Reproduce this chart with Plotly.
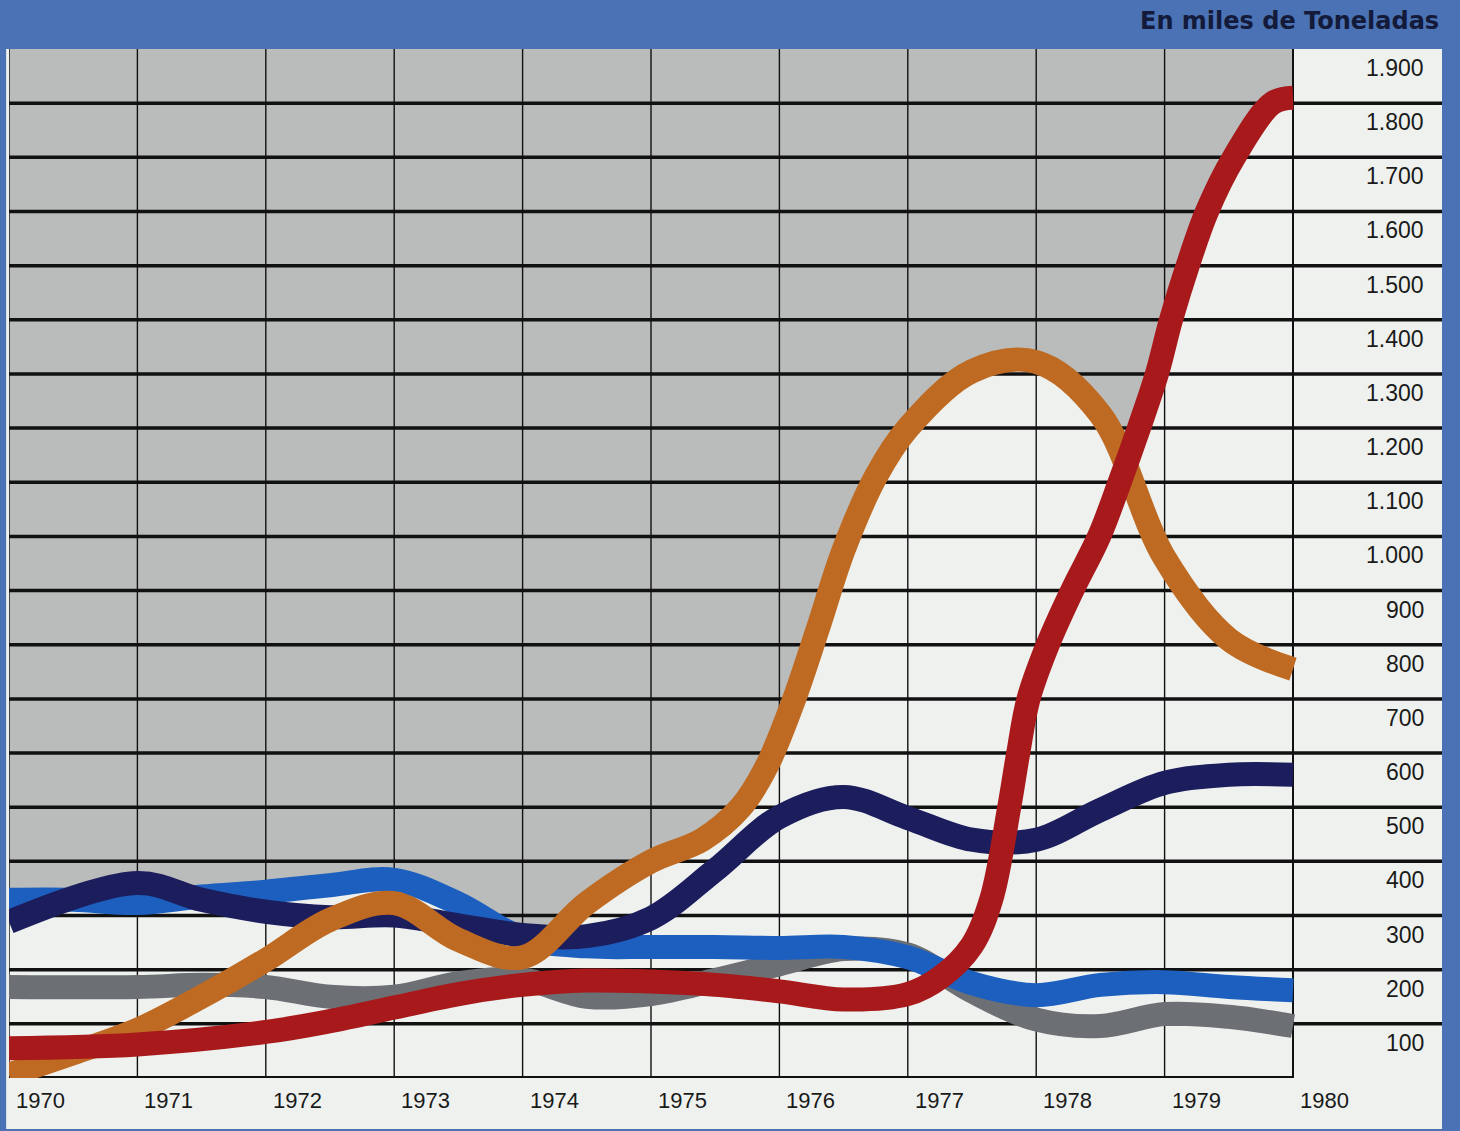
import plotly.graph_objects as go

# ---------------- data ----------------
years = [1970, 1971, 1972, 1973, 1974, 1975, 1976, 1977, 1978, 1979, 1980]
y_ticks = [100, 200, 300, 400, 500, 600, 700, 800, 900, 1000, 1100, 1200,
           1300, 1400, 1500, 1600, 1700, 1800, 1900]
y_tick_labels = ["100", "200", "300", "400", "500", "600", "700", "800", "900",
                 "1.000", "1.100", "1.200", "1.300", "1.400", "1.500", "1.600",
                 "1.700", "1.800", "1.900"]

gray_x = [1970, 1971, 1971.5, 1972, 1972.5, 1973, 1973.5, 1974, 1974.5, 1975,
          1975.5, 1976, 1976.5, 1977, 1977.5, 1978, 1978.5, 1979, 1979.5, 1980]
gray_y = [168, 168, 172, 168, 150, 150, 175, 182, 150, 155,
          181, 210, 238, 228, 160, 108, 96, 118, 113, 96]

blue_x = [1970, 1970.5, 1971, 1971.5, 1972, 1972.5, 1973, 1973.5, 1974,
          1974.5, 1975, 1975.5, 1976, 1976.5, 1977, 1977.5, 1978,
          1978.5, 1979, 1979.5, 1980]
blue_y = [329, 329, 323, 335, 344, 356, 366, 322, 258,
          243, 242, 242, 240, 242, 223, 175, 153,
          172, 177, 168, 162]

navy_x = [1970, 1971, 1971.5, 1972, 1972.5, 1973, 1973.5, 1974, 1974.5, 1975, 1975.5,
          1976, 1976.5, 1977, 1977.5, 1978, 1978.5, 1979, 1979.5, 1980]
navy_y = [288, 360, 329, 307, 297, 300, 282, 264, 262, 295, 384,
          482, 519, 480, 440, 440, 495, 545, 560, 560]

orange_x = [1970, 1970.5, 1971, 1971.5, 1972, 1972.5, 1973, 1973.5,
            1974, 1974.5, 1975, 1975.4, 1975.7, 1975.9, 1976.1, 1976.3, 1976.5,
            1976.75, 1977, 1977.5, 1978, 1978.5, 1979, 1979.5, 1980]
orange_y = [6, 46, 89, 150, 218, 292, 323, 255,
            223, 323, 400, 440, 500, 575, 690, 830, 975,
            1110, 1200, 1305, 1322, 1225, 960, 810, 755]

red_x = [1970, 1971, 1972, 1972.5, 1973, 1973.5, 1974, 1974.5, 1975,
         1975.5, 1976, 1976.5, 1977, 1977.25, 1977.5, 1977.65, 1977.79, 1977.86,
         1977.94, 1978.09, 1978.28, 1978.49, 1978.65, 1978.8, 1978.94, 1979.05,
         1979.18, 1979.33, 1979.54, 1979.84, 1980]
red_y = [55, 62, 85, 105, 130, 155, 172, 180, 178,
         172, 160, 145, 155, 185, 245, 330, 500, 600,
         700, 800, 900, 1000, 1100, 1200, 1300, 1400,
         1500, 1600, 1700, 1800, 1810]

series = [
    ("gray", gray_x, gray_y, "#6c6f73"),
    ("blue", blue_x, blue_y, "#1d5fbf"),
    ("navy", navy_x, navy_y, "#1b1d5c"),
    ("orange", orange_x, orange_y, "#bf6a22"),
    ("red", red_x, red_y, "#a8191b"),
]

# ---------------- styling ----------------
BORDER = "#4a72b4"
PANEL = "#eef1ee"
SHADE = "#b9bcbb"
GRID = "#111111"
FONT = "Liberation Sans"

W, H = 1460, 1131
ML, MR, MT, MB = 9, 18, 49, 53
plot_w = W - ML - MR
x_span = (1980 - 1970) * plot_w / (1293 - 9)
x_max = 1970 + x_span
y_top = 1900
LW = 24

fig = go.Figure()

# area beneath each curve painted light (grey shading stays above the envelope)
for name, xs, ys, col in series:
    fig.add_trace(go.Scatter(
        x=xs, y=ys, mode="lines", line=dict(width=0, shape="spline", smoothing=1),
        fill="tozeroy", fillcolor=PANEL, hoverinfo="skip", showlegend=False))

# horizontal grid lines (extend under the tick labels)
for v in y_ticks[:-1]:
    fig.add_trace(go.Scatter(
        x=[1970, x_max], y=[v, v], mode="lines",
        line=dict(color=GRID, width=3.5), hoverinfo="skip", showlegend=False))
# baseline
fig.add_trace(go.Scatter(
    x=[years[0], years[-1]], y=[0, 0], mode="lines",
    line=dict(color=GRID, width=4), hoverinfo="skip", showlegend=False))
# vertical grid lines
for yr in years:
    fig.add_trace(go.Scatter(
        x=[yr, yr], y=[0, y_top], mode="lines",
        line=dict(color=GRID, width=2 if yr == years[-1] else 1.4),
        hoverinfo="skip", showlegend=False))

# the coloured bands
for name, xs, ys, col in series:
    fig.add_trace(go.Scatter(
        x=xs, y=ys, mode="lines", name=name,
        line=dict(color=col, width=LW, shape="spline", smoothing=1),
        hoverinfo="skip", showlegend=False))

shapes = [
    dict(type="rect", xref="paper", yref="paper", x0=-0.002, x1=1.0,
         y0=-(1129 - (H - MB)) / (H - MT - MB), y1=1.0,
         fillcolor=PANEL, line=dict(width=0), layer="below"),
    dict(type="rect", xref="x", yref="y", x0=years[0], x1=years[-1], y0=0, y1=y_top,
         fillcolor=SHADE, line=dict(width=0), layer="below"),
]

annotations = []
for v, lab in zip(y_ticks, y_tick_labels):
    annotations.append(dict(
        x=(1426 - ML) / plot_w, xref="paper", y=v, yref="y",
        text=lab, showarrow=False, xanchor="right", yanchor="top", yshift=-4,
        font=dict(family=FONT, size=23, color="#1a1a1a")))
for yr in years:
    annotations.append(dict(
        x=yr, xref="x", y=0, yref="y", text=str(yr), showarrow=False,
        xanchor="left", yanchor="top", xshift=5, yshift=-8,
        font=dict(family=FONT, size=22, color="#1a1a1a")))
annotations.append(dict(
    x=(1441 - ML) / plot_w, xref="paper", y=(H - MB - 21) / (H - MT - MB), yref="paper",
    text="<b>En miles de Toneladas</b>", showarrow=False,
    xanchor="right", yanchor="middle",
    font=dict(family="DejaVu Sans", size=24, color="#141a3a")))

fig.update_layout(
    width=W, height=H,
    margin=dict(l=ML, r=MR, t=MT, b=MB, pad=0),
    paper_bgcolor=BORDER, plot_bgcolor=PANEL,
    xaxis=dict(range=[1970, x_max], showgrid=False, zeroline=False,
               showticklabels=False, ticks="", showline=False, fixedrange=True),
    yaxis=dict(range=[0, y_top], showgrid=False, zeroline=False,
               showticklabels=False, ticks="", showline=False, fixedrange=True),
    shapes=shapes, annotations=annotations, showlegend=False,
)

fig.write_html("out.html", config={"displayModeBar": False},
               post_script="document.body.style.margin='0px';"
                           "document.body.style.overflow='hidden';")
